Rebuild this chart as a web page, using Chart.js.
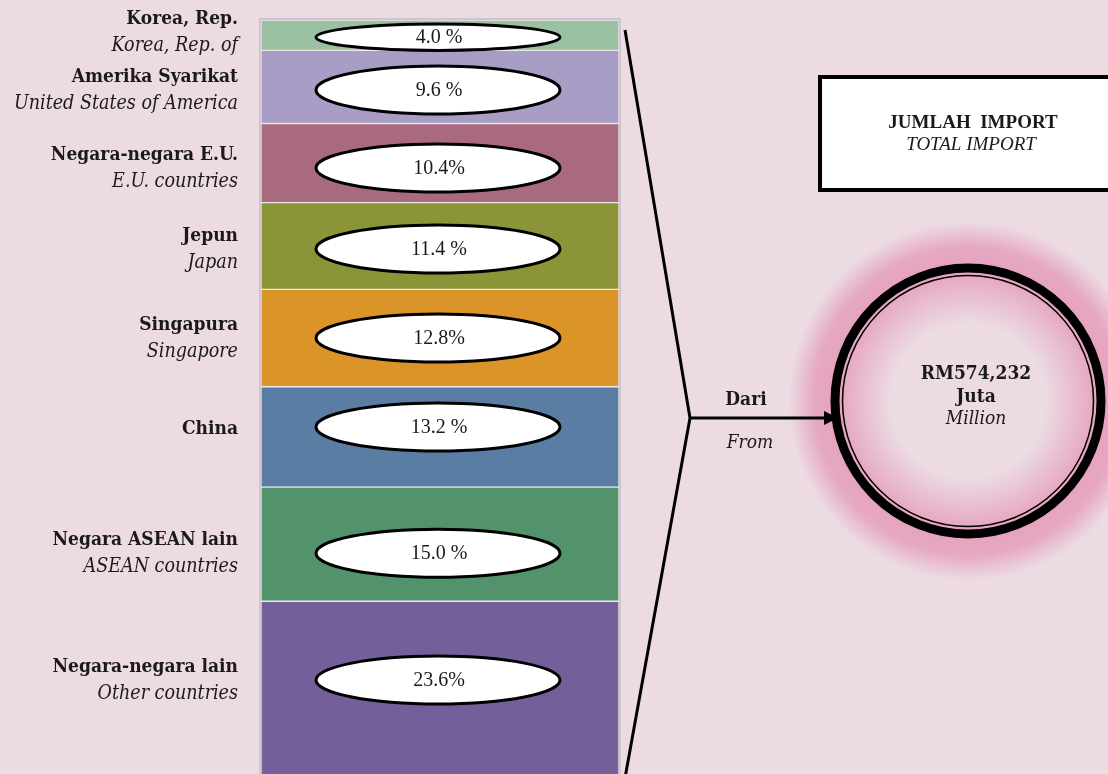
<!DOCTYPE html>
<html>
<head>
<meta charset="utf-8">
<script src="https://cdn.jsdelivr.net/npm/chart.js@4/dist/chart.umd.min.js"></script>
<style>
  body { margin: 0; background: #ecdbe3; }
  canvas { display: block; }
</style>
</head>
<body>
<canvas id="importChart" width="1108" height="774"></canvas>
<script>
// data, bottom segment first
const namesMalay = ["Negara-negara lain", "Negara ASEAN lain", "China", "Singapura", "Jepun", "Negara-negara E.U.", "Amerika Syarikat", "Korea, Rep."];
const namesEnglish = ["Other countries", "ASEAN countries", "", "Singapore", "Japan", "E.U. countries", "United States of America", "Korea, Rep. of"];
const shares = [23.6, 15.0, 13.2, 12.8, 11.4, 10.4, 9.6, 4.0];
const shareLabels = ["23.6%", "15.0 %", "13.2 %", "12.8%", "11.4 %", "10.4%", "9.6 %", "4.0 %"];
const colours = ["#735f99", "#52936b", "#5a7da3", "#db9428", "#8b9537", "#aa6a7e", "#a89dc5", "#9ac2a2"];

const totalLines = ["RM574,232", "Juta", "Million"];

// layout only: nudge each ellipse / label pair off the segment centre (px)
const markShift = [-11, 9, -10, 0, 3, 5, 3, 2];

const SERIF = "'Liberation Serif', serif";
const COND = "'DejaVu Serif Condensed', 'DejaVu Serif', serif";

function ellipse(ctx, cx, cy, rx, ry) {
  ctx.beginPath();
  ctx.ellipse(cx, cy, rx, ry, 0, 0, Math.PI * 2);
  ctx.fillStyle = "#ffffff";
  ctx.fill();
  ctx.lineWidth = 3;
  ctx.strokeStyle = "#000";
  ctx.stroke();
}

const decorations = {
  id: "decorations",
  beforeDatasetsDraw(chart) {
    const { ctx, chartArea: a } = chart;
    ctx.save();
    ctx.strokeStyle = "#cfc6cc";
    ctx.lineWidth = 2;
    ctx.strokeRect(a.left - 1, a.top - 1, a.right - a.left + 2, a.bottom - a.top + 10);
    ctx.restore();
  },
  afterDatasetsDraw(chart) {
    const { ctx, chartArea: a } = chart;
    ctx.save();
    chart.data.datasets.forEach((ds, i) => {
      const bar = chart.getDatasetMeta(i).data[0];
      const top = Math.min(bar.y, bar.base);
      const bot = Math.max(bar.y, bar.base);
      const mid = (top + bot) / 2 + markShift[i];
      const ry = Math.min(24, (bot - top) / 2 - 2);
      const cx = (a.left + a.right) / 2 - 2;
      ellipse(ctx, cx, mid, 122, ry);
      ctx.fillStyle = "#1a1a1a";
      ctx.font = "20px " + SERIF;
      ctx.textAlign = "center";
      ctx.textBaseline = "middle";
      ctx.fillText(shareLabels[i], cx + 1, mid + 1);

      // category names on the left
      ctx.textAlign = "right";
      const x = a.left - 23;
      if (namesEnglish[i]) {
        const up = i === shares.length - 1 ? 5 : 0;
        ctx.font = "bold 19px " + COND;
        ctx.fillText(namesMalay[i], x, mid - 13 - up);
        ctx.font = "italic 19.5px " + COND;
        ctx.fillText(namesEnglish[i], x, mid + 14 - up);
      } else {
        ctx.font = "bold 19px " + COND;
        ctx.fillText(namesMalay[i], x, mid + 2);
      }
    });

    // glowing circle
    const ccx = 968, ccy = 401, r = 133;
    const g = ctx.createRadialGradient(ccx, ccy, 78, ccx, ccy, r + 46);
    g.addColorStop(0, "rgba(229,162,190,0)");
    g.addColorStop(0.45, "rgba(229,162,190,0.85)");
    g.addColorStop(0.55, "rgba(229,162,190,1)");
    g.addColorStop(0.75, "rgba(229,162,190,0.9)");
    g.addColorStop(1, "rgba(229,162,190,0)");
    ctx.fillStyle = g;
    ctx.beginPath();
    ctx.arc(ccx, ccy, r + 46, 0, Math.PI * 2);
    ctx.fill();
    ctx.strokeStyle = "#000";
    ctx.lineWidth = 9;
    ctx.beginPath();
    ctx.arc(ccx, ccy, r, 0, Math.PI * 2);
    ctx.stroke();
    ctx.lineWidth = 1.5;
    ctx.beginPath();
    ctx.arc(ccx, ccy, r - 7.5, 0, Math.PI * 2);
    ctx.stroke();

    ctx.fillStyle = "#1a1a1a";
    ctx.textAlign = "center";
    ctx.font = "bold 19px " + COND;
    ctx.fillText(totalLines[0], 976, 374);
    ctx.fillText(totalLines[1], 976, 397);
    ctx.font = "italic 19px " + COND;
    ctx.fillText(totalLines[2], 976, 419);

    // bracket and arrow
    const tipX = 690, tipY = 418;
    ctx.strokeStyle = "#000";
    ctx.lineWidth = 3;
    ctx.beginPath();
    ctx.moveTo(a.right + 6, a.top + 10);
    ctx.lineTo(tipX, tipY);
    ctx.lineTo(a.right + 6, a.bottom + 4);
    ctx.stroke();
    ctx.beginPath();
    ctx.moveTo(tipX, tipY);
    ctx.lineTo(826, tipY);
    ctx.stroke();
    ctx.beginPath();
    ctx.moveTo(838, tipY);
    ctx.lineTo(824, tipY - 7);
    ctx.lineTo(824, tipY + 7);
    ctx.closePath();
    ctx.fillStyle = "#000";
    ctx.fill();
    ctx.fillStyle = "#1a1a1a";
    ctx.font = "bold 19px " + COND;
    ctx.fillText("Dari", 746, 400);
    ctx.font = "italic 19px " + COND;
    ctx.fillText("From", 750, 443);

    // total box
    ctx.fillStyle = "#ffffff";
    ctx.fillRect(820, 77, 300, 113);
    ctx.lineWidth = 4;
    ctx.strokeStyle = "#000";
    ctx.strokeRect(820, 77, 300, 113);
    ctx.fillStyle = "#1a1a1a";
    ctx.font = "bold 19px " + SERIF;
    ctx.fillText("JUMLAH  IMPORT", 973, 123);
    ctx.font = "italic 19px " + SERIF;
    ctx.fillText("TOTAL IMPORT", 971, 145);
    ctx.restore();
  }
};

new Chart(document.getElementById("importChart"), {
  type: "bar",
  data: {
    labels: ["Import"],
    datasets: shares.map((v, i) => ({
      label: namesMalay[i],
      data: [v],
      backgroundColor: colours[i],
      borderColor: "#eee6ec",
      borderWidth: 1,
      borderSkipped: false
    }))
  },
  options: {
    responsive: false,
    animation: false,
    layout: { padding: { left: 261, right: 489, top: 20, bottom: 0 } },
    datasets: { bar: { barPercentage: 1, categoryPercentage: 1 } },
    scales: {
      x: { stacked: true, display: false },
      // bottom of the bar runs a little past the page edge
      y: { stacked: true, display: false, min: 0.9, max: 100 }
    },
    plugins: { legend: { display: false }, tooltip: { enabled: false } }
  },
  plugins: [decorations]
});
</script>
</body>
</html>
